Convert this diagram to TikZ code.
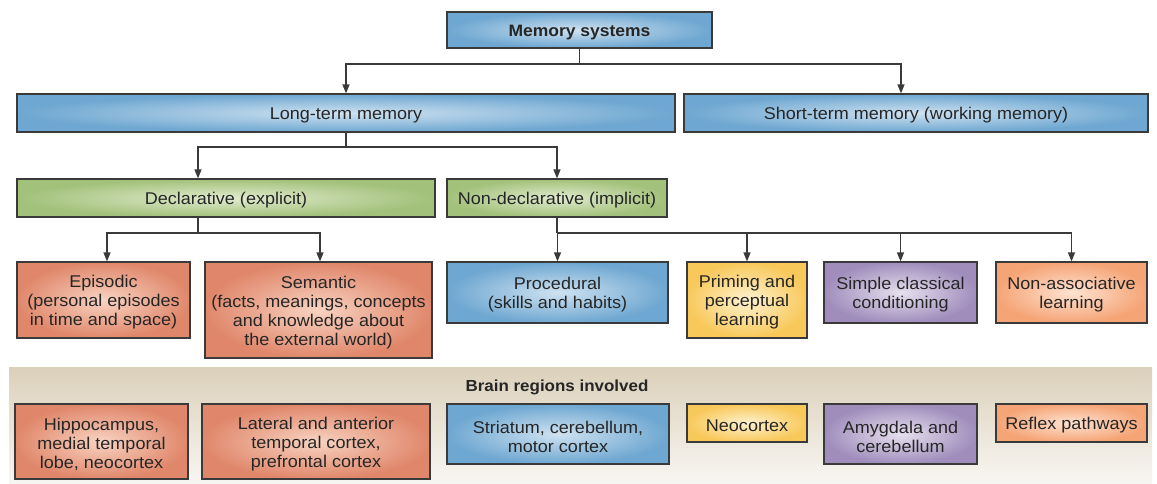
\documentclass[tikz,border=0pt]{standalone}
\usepackage{fontspec}
\setmainfont{Liberation Sans}[FakeStretch=1.06]
\usetikzlibrary{arrows.meta,calc}
\definecolor{txt}{HTML}{262626}
\definecolor{edge}{HTML}{3A3A3A}
\definecolor{blueO}{HTML}{6EA7D1}
\definecolor{blueI}{HTML}{CFE2F1}
\definecolor{greenO}{HTML}{A2C17A}
\definecolor{greenI}{HTML}{E1EBCF}
\definecolor{redO}{HTML}{E0876B}
\definecolor{redI}{HTML}{F8D3C2}
\definecolor{yelO}{HTML}{F8C85A}
\definecolor{yelI}{HTML}{FFF2D0}
\definecolor{purO}{HTML}{A08DBC}
\definecolor{purI}{HTML}{E6E0EE}
\definecolor{orO}{HTML}{F5A476}
\definecolor{orI}{HTML}{FEE3D2}
\definecolor{tanT}{HTML}{DBD0BA}
\definecolor{tanB}{HTML}{F8F6F2}
\newcommand{\upstrut}{\rule{0pt}{17.5pt}}
\tikzset{
  box/.style={draw=edge, line width=1.2pt, align=center, text=txt, inner sep=1pt,
    font=\fontsize{17}{19}\selectfont, execute at begin node={\rule{0pt}{17pt}}},
  bluebox/.style={box, inner color=blueI, outer color=blueO},
  greenbox/.style={box, inner color=greenI, outer color=greenO},
  redbox/.style={box, inner color=redI, outer color=redO},
  yelbox/.style={box, inner color=yelI, outer color=yelO},
  purbox/.style={box, inner color=purI, outer color=purO},
  orbox/.style={box, inner color=orI, outer color=orO},
  conn/.style={draw=edge, line width=1.3pt},
  arr/.style={conn, -{Triangle[length=9pt,width=7pt]}},
}
\begin{document}
\begin{tikzpicture}[x=1pt,y=-1pt]
\fill[white] (0,0) rectangle (1157,483);
\useasboundingbox (0,0) rectangle (1157,483);
% band
\shade[top color=tanT, bottom color=tanB] (9,367) rectangle (1152,483);
\node[text=txt, font=\bfseries\fontsize{16}{18}\selectfont] (brain) at (557,387) {Brain regions involved};

% top level
\node[bluebox, minimum width=265pt, minimum height=36pt, font=\bfseries\fontsize{16.5}{19}\selectfont] (ms) at (579.5,30) {Memory systems};
\node[bluebox, minimum width=658pt, minimum height=38pt] (ltm) at (346,113) {Long-term memory};
\node[bluebox, minimum width=464pt, minimum height=38pt] (stm) at (916,113) {Short-term memory (working memory)};
\node[greenbox, minimum width=418pt, minimum height=38pt] (decl) at (226,198) {Declarative (explicit)};
\node[greenbox, minimum width=220pt, minimum height=38pt] (nond) at (557,198) {Non-declarative (implicit)};

% types
\node[redbox, minimum width=173pt, minimum height=76pt] (epi) at (103.5,300) {\upstrut Episodic\\(personal episodes\\in time and space)};
\node[redbox, minimum width=227pt, minimum height=96pt] (sem) at (318.5,310) {\upstrut Semantic\\(facts, meanings, concepts\\and knowledge about\\the external world)};
\node[bluebox, minimum width=221pt, minimum height=61pt] (proc) at (557.5,292.5) {\upstrut Procedural\\(skills and habits)};
\node[yelbox, minimum width=120pt, minimum height=76pt] (prim) at (747,300) {\upstrut Priming and\\perceptual\\learning};
\node[purbox, minimum width=153pt, minimum height=61pt] (simp) at (900.5,292.5) {\upstrut Simple classical\\conditioning};
\node[orbox, minimum width=151pt, minimum height=61pt] (nona) at (1071.5,292.5) {\upstrut Non-associative\\learning};

% brain regions
\node[redbox, minimum width=173pt, minimum height=75pt] (hip) at (101.5,441.5) {\upstrut Hippocampus,\\medial temporal\\lobe, neocortex};
\node[redbox, minimum width=228pt, minimum height=75pt] (lat) at (316,441.5) {\upstrut Lateral and anterior\\temporal cortex,\\prefrontal cortex};
\node[bluebox, minimum width=222pt, minimum height=60pt] (stri) at (558,434) {\upstrut Striatum, cerebellum,\\motor cortex};
\node[yelbox, minimum width=120pt, minimum height=38pt] (neo) at (747,423) {Neocortex};
\node[purbox, minimum width=153pt, minimum height=60pt] (amy) at (900.5,434) {\upstrut Amygdala and\\cerebellum};
\node[orbox, minimum width=151pt, minimum height=38pt] (refl) at (1071.5,423) {Reflex pathways};

% connectors
\coordinate (j1) at (579.5,64);
\draw[conn] (ms.south) -- (j1);
\draw[arr] (j1) -| (ltm.north);
\draw[arr] (j1) -| ([xshift=-15pt]stm.north);

\coordinate (j2) at (346,147);
\draw[conn] (ltm.south) -- (j2);
\draw[arr] (j2) -| ([xshift=-28pt]decl.north);
\draw[arr] (j2) -| (nond.north);

\coordinate (j3) at (198,233);
\draw[conn] ([xshift=-28pt]decl.south) -- (j3);
\draw[arr] (j3) -| ([xshift=3.5pt]epi.north);
\draw[arr] (j3) -| ([xshift=1.5pt]sem.north);

\coordinate (j4) at (557,233);
\draw[conn] (nond.south) -- (j4);
\draw[arr] (j4) -- (j4 -| proc.north) -- (proc.north);
\draw[arr] (j4) -| (prim.north);
\draw[arr] (j4) -| (simp.north);
\draw[arr] (j4) -| (nona.north);
\end{tikzpicture}
\end{document}
